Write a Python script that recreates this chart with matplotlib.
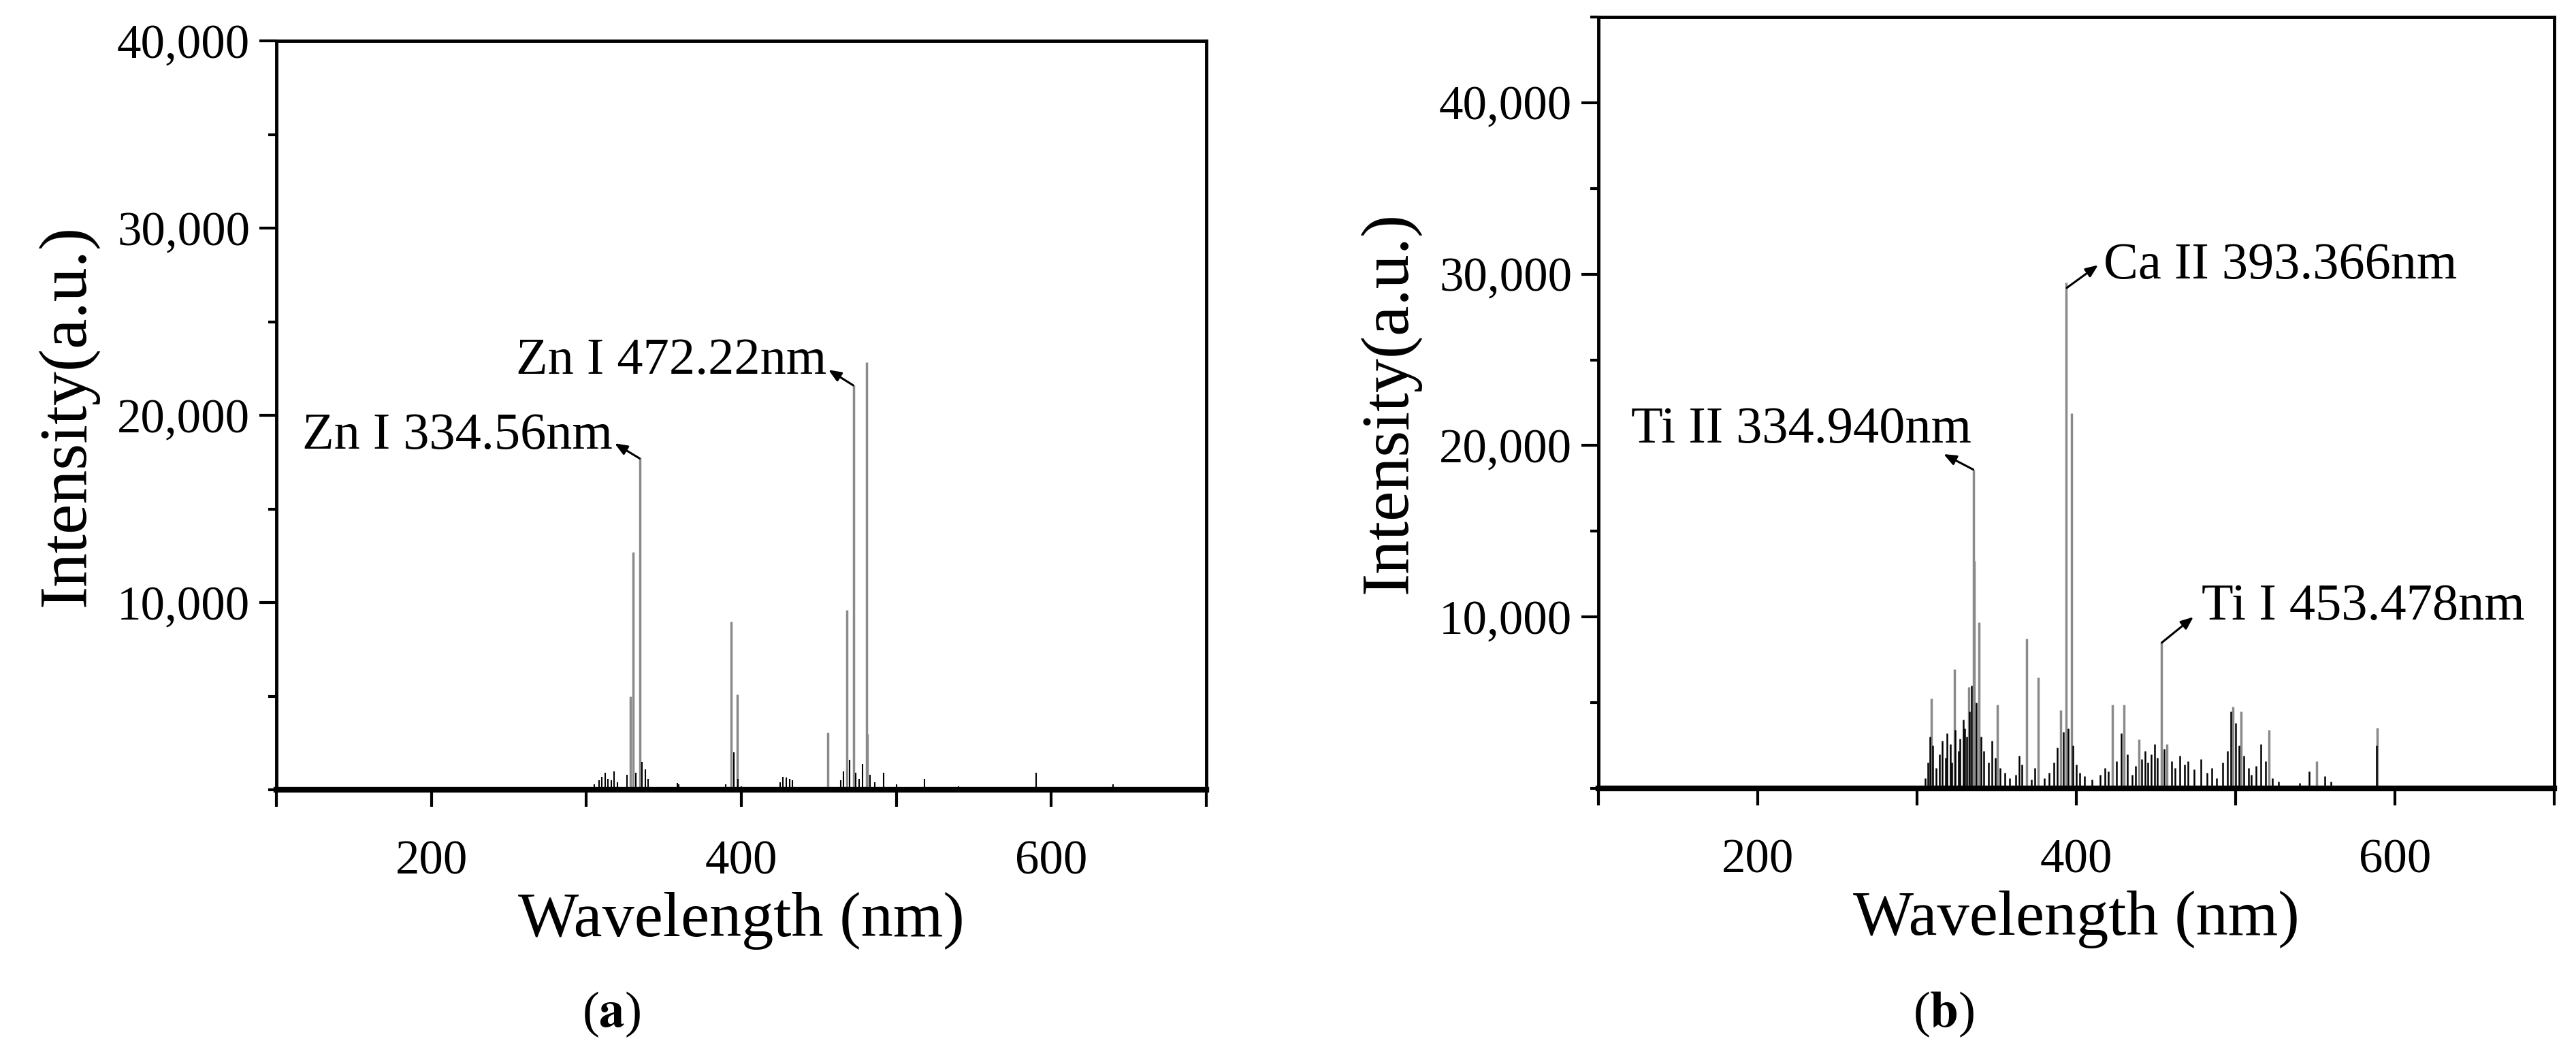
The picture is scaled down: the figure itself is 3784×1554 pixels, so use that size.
import matplotlib
matplotlib.use("Agg")
import matplotlib.pyplot as plt
from matplotlib.ticker import MultipleLocator, FuncFormatter

plt.rcParams['font.family'] = ['Liberation Serif', 'DejaVu Serif']
plt.rcParams['mathtext.fontset'] = 'stix'

# ---------- data: panel (a) Zn spectrum, strong (gray) lines ----------
a_wl = [328.4, 330.1, 334.5, 393.4, 397.3, 455.9, 468.2, 472.4, 480.8, 481.2]
a_int = [5000, 12700, 17750, 9000, 5100, 3050, 9600, 21600, 22850, 3000]
# weak lines (black)
a_wl_w = [305, 308, 310, 312, 314, 316, 318, 320, 326, 332, 336, 338, 340, 358.7, 359.5,
          385, 390, 395, 398, 400, 425, 427, 429, 431, 433, 445, 464, 466, 470, 474, 476,
          478, 483, 486, 492, 500, 518, 540, 590, 640]
a_int_w = [300, 500, 700, 900, 600, 500, 1000, 400, 800, 900, 1500, 1100, 600, 350, 300,
           150, 300, 2000, 600, 200, 400, 700, 650, 600, 500, 150, 500, 1000, 1600, 900, 600,
           1400, 800, 400, 900, 300, 600, 200, 900, 300]

# ---------- data: panel (b) strong (gray) lines ----------
b_wl = [309, 323.6, 332.5, 335.5, 336.0, 338.9, 350.5, 368.8, 376.0, 390.0, 393.4, 396.8,
        422.8, 430.0, 439.4, 453.4, 457.0, 498.3, 503.5, 521.0, 551.0, 588.8]
b_int = [5240, 6950, 5900, 18600, 13270, 9700, 4900, 8730, 6470, 4560, 29500, 21900,
         4900, 4900, 2850, 8500, 2600, 4750, 4500, 3400, 1600, 3530]
# weak lines (black)
b_wl_w = [305, 307, 308, 310, 312, 314, 316, 318, 319, 321, 322, 324, 326, 327, 329, 330,
          331, 333, 334, 337, 340, 342, 345, 347, 349, 352, 355, 358, 362, 364, 366, 372,
          374, 380, 383, 386, 388, 392, 395, 398, 400, 402, 405, 410, 415, 418, 420, 425,
          428, 432, 435, 437, 441, 443, 445, 447, 449, 451, 455, 460, 462, 465, 468, 470,
          474, 478, 482, 485, 488, 492, 495, 497, 500, 502, 505, 508, 510, 513, 516, 519,
          523, 527, 540, 546, 556, 560, 570, 588.4, 600]
b_int_w = [600, 1500, 3000, 2500, 1200, 2000, 2800, 1800, 3200, 2600, 1500, 3400, 2200, 2900,
           4000, 3500, 3000, 4500, 6000, 5000, 3000, 2200, 1500, 2800, 1800, 1200, 900, 600,
           800, 1900, 1400, 500, 1200, 600, 900, 1500, 2400, 3300, 3500, 2500, 1400, 900,
           700, 500, 800, 1200, 1000, 1600, 3200, 2000, 800, 1300, 1700, 2200, 1500, 2000,
           2600, 1800, 2300, 1600, 1200, 1900, 1400, 1600, 1100, 1700, 900, 1200, 600, 1500,
           2200, 4500, 3800, 2500, 1900, 1200, 800, 1300, 2600, 1600, 600, 400, 300, 1000,
           700, 400, 150, 2500, 100]

y_ticks = [10000, 20000, 30000, 40000]

fig = plt.figure(figsize=(37.84, 15.54), dpi=100)
W, H = 3784, 1554
axA = fig.add_axes([406 / W, 1 - 1160 / H, (1772 - 406) / W, (1160 - 60) / H])
axB = fig.add_axes([2348 / W, 1 - 1158 / H, (3752 - 2348) / W, (1158 - 25) / H])

fmt = FuncFormatter(lambda v, p: f"{int(v):,}")
xfmt = FuncFormatter(lambda v, p: f"{int(v)}" if int(round(v)) in (200, 400, 600) else "")

def style(ax, ymax):
    ax.set_xlim(100, 700)
    ax.set_ylim(0, ymax)
    ax.set_yticks(y_ticks)
    ax.yaxis.set_major_formatter(fmt)
    ax.yaxis.set_minor_locator(MultipleLocator(5000))
    ax.xaxis.set_major_locator(MultipleLocator(100))
    ax.xaxis.set_major_formatter(xfmt)
    ax.tick_params(axis='both', which='major', direction='out', length=18, width=3,
                   labelsize=51, pad=10)
    ax.tick_params(axis='both', which='minor', direction='out', length=9, width=3)
    ax.tick_params(axis='x', pad=35)
    for s in ax.spines.values():
        s.set_linewidth(3.5)
    ax.spines['bottom'].set_linewidth(6)
    ax.set_xlabel('Wavelength (nm)', fontsize=68, labelpad=8)
    ax.set_ylabel('Intensity(a.u.)', fontsize=72, labelpad=20)

axA.vlines(a_wl, 0, a_int, color='#8a8a8a', lw=2.5)
axA.vlines(a_wl_w, 0, a_int_w, color='black', lw=1.5)
style(axA, 40000)

axB.vlines(b_wl, 0, b_int, color='#8a8a8a', lw=2.5)
axB.vlines(b_wl_w, 0, b_int_w, color='black', lw=1.8)
style(axB, 45000)

arrow = dict(arrowstyle='-|>,head_length=1.1,head_width=0.45', color='black', lw=2.2,
             shrinkA=0, shrinkB=0)
fs = 55
# panel (a) annotations
axA.text(317, 18900, 'Zn I 334.56nm', ha='right', va='center', fontsize=fs)
axA.annotate('', xy=(318.3, 18500), xytext=(334.3, 17700), arrowprops=arrow)
axA.text(455, 22900, 'Zn I 472.22nm', ha='right', va='center', fontsize=fs)
axA.annotate('', xy=(456.2, 22430), xytext=(472.2, 21600), arrowprops=arrow)
# panel (b) annotations
axB.text(334.2, 20900, 'Ti II 334.940nm', ha='right', va='center', fontsize=fs)
axB.annotate('', xy=(316.7, 19500), xytext=(335.3, 18600), arrowprops=arrow)
axB.text(417, 30500, 'Ca II 393.366nm', ha='left', va='center', fontsize=fs)
axB.annotate('', xy=(413.7, 30530), xytext=(394, 29200), arrowprops=arrow)
axB.text(478.6, 10600, 'Ti I 453.478nm', ha='left', va='center', fontsize=fs)
axB.annotate('', xy=(473.5, 10000), xytext=(453.6, 8500), arrowprops=arrow)

fig.text(898 / W, 1 - 1490 / H, r'($\mathbf{a}$)', ha='center', va='center', fontsize=54)
fig.text(2855 / W, 1 - 1490 / H, r'($\mathbf{b}$)', ha='center', va='center', fontsize=54)

fig.savefig('out.png', dpi=100, facecolor='white')
